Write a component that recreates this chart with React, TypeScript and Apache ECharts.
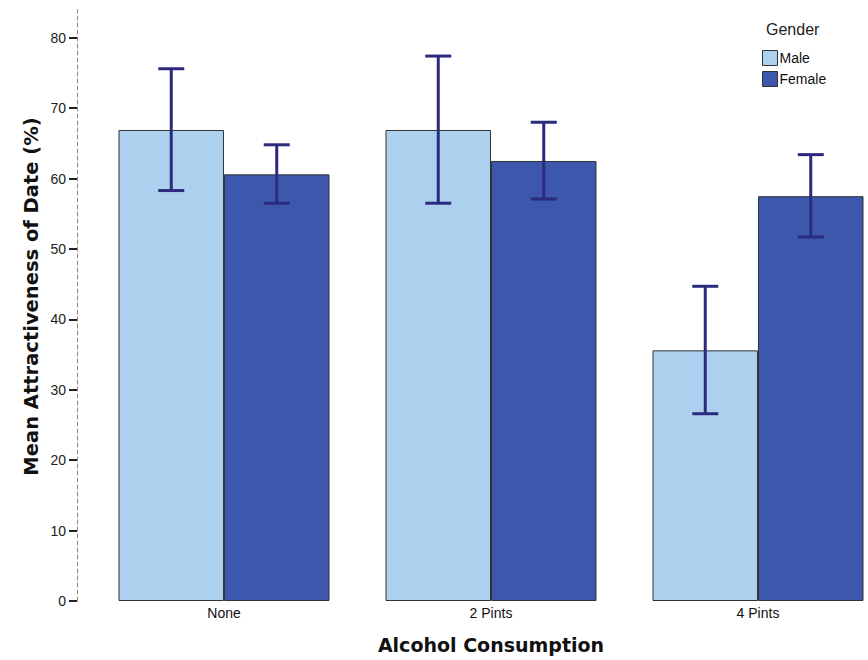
import React, { useEffect, useRef } from "react";
import * as echarts from "echarts";

const categories = ["None", "2 Pints", "4 Pints"];
const maleMeans = [66.9, 66.9, 35.6];
const femaleMeans = [60.6, 62.5, 57.5];
const maleLow = [58.3, 56.5, 26.6];
const maleHigh = [75.6, 77.4, 44.7];
const femaleLow = [56.5, 57.1, 51.7];
const femaleHigh = [64.8, 68.0, 63.4];
const yTicks = [0, 10, 20, 30, 40, 50, 60, 70, 80];

const MALE_COLOR = "#ADD0EE";
const FEMALE_COLOR = "#3C57AB";
const ERR_COLOR = "#2B2A7C";
const BAR_W = 105.5;

function errorSeries(name: string, lows: number[], highs: number[], side: number) {
  return {
    type: "custom",
    name: name + " err",
    z: 10,
    silent: true,
    encode: { x: 0, y: [1, 2] },
    data: lows.map((l, i) => [i, l, highs[i]]),
    renderItem: (params: any, api: any) => {
      const idx = api.value(0);
      const lo = api.coord([idx, api.value(1)]);
      const hi = api.coord([idx, api.value(2)]);
      const x = lo[0] + (side * BAR_W) / 2;
      const cap = 13;
      const style = { stroke: ERR_COLOR, lineWidth: 3 };
      return {
        type: "group",
        children: [
          { type: "line", shape: { x1: x, y1: lo[1], x2: x, y2: hi[1] }, style },
          { type: "line", shape: { x1: x - cap, y1: lo[1], x2: x + cap, y2: lo[1] }, style },
          { type: "line", shape: { x1: x - cap, y1: hi[1], x2: x + cap, y2: hi[1] }, style },
        ],
      };
    },
  };
}

export default function App() {
  const ref = useRef<HTMLDivElement>(null);
  useEffect(() => {
    document.body.style.margin = "0";
    if (!ref.current) return;
    const chart = echarts.init(ref.current, null, { renderer: "svg" });
    const font = "Liberation Sans, Arial, sans-serif";
    const titleFont = "DejaVu Sans, Verdana, sans-serif";
    chart.setOption({
      animation: false,
      backgroundColor: "#ffffff",
      textStyle: { fontFamily: font },
      grid: {
        left: 90.5,
        top: 9.6,
        width: 801,
        height: 591.4,
        outerBoundsMode: "none",
        containLabel: false,
      },
      legend: {
        orient: "vertical",
        left: 762,
        top: 50,
        padding: 0,
        itemWidth: 15,
        itemHeight: 15,
        itemGap: 5,
        icon: "rect",
        data: ["Male", "Female"],
        textStyle: { fontSize: 14, color: "#111", fontFamily: font, padding: [0, 0, 0, -3] },
        itemStyle: { borderColor: "#333", borderWidth: 1 },
      },
      graphic: [
        {
          type: "text",
          left: 766,
          top: 21,
          style: { text: "Gender", fontSize: 16, fill: "#222", fontFamily: font },
        },
        {
          type: "text",
          x: 31,
          y: 296.5,
          rotation: Math.PI / 2,
          style: {
            text: "Mean Attractiveness of Date (%)",
            fontSize: 19.5,
            fontWeight: "bold",
            fill: "#111",
            fontFamily: titleFont,
            align: "center",
            verticalAlign: "middle",
          },
        },
      ],
      xAxis: {
        type: "category",
        data: categories,
        axisLine: { show: false },
        axisTick: { show: false },
        axisLabel: { fontSize: 14, color: "#111", margin: 5, fontFamily: font },
        name: "Alcohol Consumption",
        nameLocation: "middle",
        nameGap: 34,
        nameTextStyle: {
          fontSize: 19,
          fontWeight: "bold",
          color: "#111",
          fontFamily: titleFont,
        },
      },
      yAxis: {
        type: "value",
        min: 0,
        max: 84,
        interval: 10,
        offset: 13.5,
        splitLine: { show: false },
        axisLine: { show: true, lineStyle: { color: "#888", type: [4, 3], width: 1 } },
        axisTick: { show: true, length: 8, customValues: yTicks, lineStyle: { color: "#222", width: 2 } },
        axisLabel: { fontSize: 14, color: "#222", margin: 11, customValues: yTicks, fontFamily: font },
      },
      series: [
        {
          type: "bar",
          name: "Male",
          data: maleMeans,
          barWidth: BAR_W,
          barGap: "0%",
          itemStyle: { color: MALE_COLOR, borderColor: "#333", borderWidth: 1 },
        },
        {
          type: "bar",
          name: "Female",
          data: femaleMeans,
          barWidth: BAR_W,
          barGap: "0%",
          itemStyle: { color: FEMALE_COLOR, borderColor: "#333", borderWidth: 1 },
        },
        errorSeries("Male", maleLow, maleHigh, -1),
        errorSeries("Female", femaleLow, femaleHigh, 1),
      ],
    });
    return () => chart.dispose();
  }, []);
  return <div ref={ref} style={{ width: 868, height: 660 }} />;
}
